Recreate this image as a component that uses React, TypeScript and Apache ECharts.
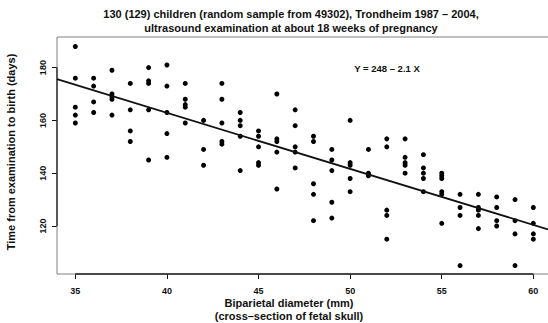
import React, { useEffect, useRef } from "react";
import * as echarts from "echarts";

// Biparietal diameter (mm) and time from examination to birth (days)
const bpdValues: number[] = [
  35, 35, 35, 35, 35,
  36, 36, 36, 36,
  37, 37, 37, 37, 37,
  38, 38, 38, 38,
  39, 39, 39, 39, 39,
  40, 40, 40, 40, 40,
  41, 41, 41, 41, 41,
  42, 42, 42,
  43, 43, 43, 43, 43,
  44, 44, 44, 44, 44,
  45, 45, 45, 45, 45,
  46, 46, 46, 46, 46,
  47, 47, 47, 47, 47,
  48, 48, 48, 48, 48,
  49, 49, 49, 49, 49,
  50, 50, 50, 50, 50,
  51, 51, 51,
  52, 52, 52, 52, 52,
  53, 53, 53, 53, 53,
  54, 54, 54, 54, 54,
  55, 55, 55, 55, 55, 55,
  56, 56, 56, 56,
  57, 57, 57, 57, 57,
  58, 58, 58, 58,
  59, 59, 59, 59,
  60, 60, 60, 60,
];
const daysValues: number[] = [
  188, 176, 165, 162, 159,
  176, 173, 167, 163,
  179, 170, 169, 168, 162,
  174, 164, 156, 152,
  180, 175, 174, 164, 145,
  181, 173, 163, 155, 146,
  174, 168, 166, 165, 159,
  160, 149, 143,
  174, 168, 159, 152, 151,
  163, 160, 158, 154, 141,
  156, 154, 150, 144, 143,
  170, 153, 152, 148, 134,
  164, 158, 150, 148, 142,
  154, 152, 136, 132, 122,
  149, 145, 141, 129, 123,
  160, 144, 143, 138, 133,
  149, 140, 139,
  153, 150, 126, 124, 115,
  153, 146, 144, 143, 140,
  147, 142, 140, 138, 133,
  140, 139, 138, 133, 132, 121,
  132, 127, 124, 105,
  132, 127, 126, 124, 119,
  131, 127, 122, 120,
  130, 122, 117, 105,
  127, 121, 117, 115,
];

// Fitted line endpoints
const fitX: number[] = [34, 60.8];
const fitY: number[] = [175.6, 118.7];

const xTicks: number[] = [35, 40, 45, 50, 55, 60];
const yTicks: number[] = [120, 140, 160, 180];

const xRange: number[] = [34, 60.8];
const yRange: number[] = [101.8, 191.6];

const titleLines: string[] = [
  "130 (129) children (random sample from 49302), Trondheim 1987 \u2013 2004,",
  "ultrasound examination at about 18 weeks of pregnancy",
];
const xTitleLines: string[] = [
  "Biparietal diameter (mm)",
  "(cross\u2013section of fetal skull)",
];
const yTitle = "Time from examination to birth (days)";
const equationText = "Y = 248 \u2013 2.1 X";

const FONT = "'Liberation Sans', Arial, Helvetica, sans-serif";
const INK = "#111111";
const BOX = "#808080";

export default function App() {
  const ref = useRef<HTMLDivElement>(null);

  useEffect(() => {
    if (!ref.current) return;
    const chart = echarts.init(ref.current, undefined, { renderer: "svg" });
    const points = bpdValues.map((x, i) => [x, daysValues[i]]);
    const fit = fitX.map((x, i) => [x, fitY[i]]);
    const [x0, x1] = xRange;
    const [y0, y1] = yRange;
    const box = [
      [x1, y1],
      [x0, y1],
      [x0, y0],
      [x1, y0],
    ];
    const xSeg = [
      [xTicks[0], y0],
      [xTicks[xTicks.length - 1], y0],
    ];
    const ySeg = [
      [x0, yTicks[0]],
      [x0, yTicks[yTicks.length - 1]],
    ];
    const segLine = (data: number[][], color: string, width: number) => ({
      type: "line",
      data,
      symbol: "none",
      clip: false,
      silent: true,
      lineStyle: { color, width },
    });

    chart.setOption({
      animation: false,
      backgroundColor: "#ffffff",
      textStyle: { fontFamily: FONT },
      grid: {
        left: 57,
        right: 0,
        top: 37,
        bottom: 49,
        show: false,
      },
      xAxis: {
        type: "value",
        min: x0,
        max: x1,
        splitLine: { show: false },
        axisLine: { show: false },
        axisTick: {
          show: true,
          length: 5,
          customValues: xTicks,
          lineStyle: { color: INK, width: 1 },
        },
        axisLabel: {
          customValues: xTicks,
          margin: 12,
          fontSize: 9,
          fontWeight: "bold",
          color: INK,
          fontFamily: FONT,
        },
      },
      yAxis: {
        type: "value",
        min: y0,
        max: y1,
        splitLine: { show: false },
        axisLine: { show: false },
        axisTick: {
          show: true,
          length: 5,
          customValues: yTicks,
          lineStyle: { color: INK, width: 1 },
        },
        axisLabel: {
          customValues: yTicks,
          rotate: 90,
          margin: 10,
          fontSize: 9,
          fontWeight: "bold",
          color: INK,
          fontFamily: FONT,
        },
      },
      series: [
        segLine(box, BOX, 1),
        segLine(xSeg, "#222222", 1.3),
        segLine(ySeg, "#222222", 1.3),
        {
          type: "line",
          data: fit,
          symbol: "none",
          silent: true,
          lineStyle: { color: INK, width: 1.8 },
        },
        {
          type: "scatter",
          data: points,
          symbol: "circle",
          symbolSize: 5,
          itemStyle: { color: "#000000", opacity: 1 },
        },
      ],
      graphic: [
        {
          type: "text",
          x: 291,
          y: 14,
          style: {
            text: titleLines[0],
            align: "center",
            verticalAlign: "middle",
            font: `bold 11px ${FONT}`,
            fill: INK,
          },
        },
        {
          type: "text",
          x: 291,
          y: 28,
          style: {
            text: titleLines[1],
            align: "center",
            verticalAlign: "middle",
            font: `bold 11px ${FONT}`,
            fill: INK,
          },
        },
        {
          type: "text",
          x: 289,
          y: 303,
          style: {
            text: xTitleLines[0],
            align: "center",
            verticalAlign: "middle",
            font: `bold 11px ${FONT}`,
            fill: INK,
          },
        },
        {
          type: "text",
          x: 289,
          y: 316,
          style: {
            text: xTitleLines[1],
            align: "center",
            verticalAlign: "middle",
            font: `bold 11px ${FONT}`,
            fill: INK,
          },
        },
        {
          type: "text",
          x: 11,
          y: 152,
          rotation: Math.PI / 2,
          style: {
            text: yTitle,
            align: "center",
            verticalAlign: "middle",
            font: `bold 11px ${FONT}`,
            fill: INK,
          },
        },
        {
          type: "text",
          x: 387,
          y: 68,
          style: {
            text: equationText,
            align: "center",
            verticalAlign: "middle",
            font: `bold 9.5px ${FONT}`,
            fill: INK,
          },
        },
      ],
    });

    return () => {
      chart.dispose();
    };
  }, []);

  return (
    <div
      ref={ref}
      style={{ position: "fixed", left: 0, top: 0, width: 548, height: 323 }}
    />
  );
}
